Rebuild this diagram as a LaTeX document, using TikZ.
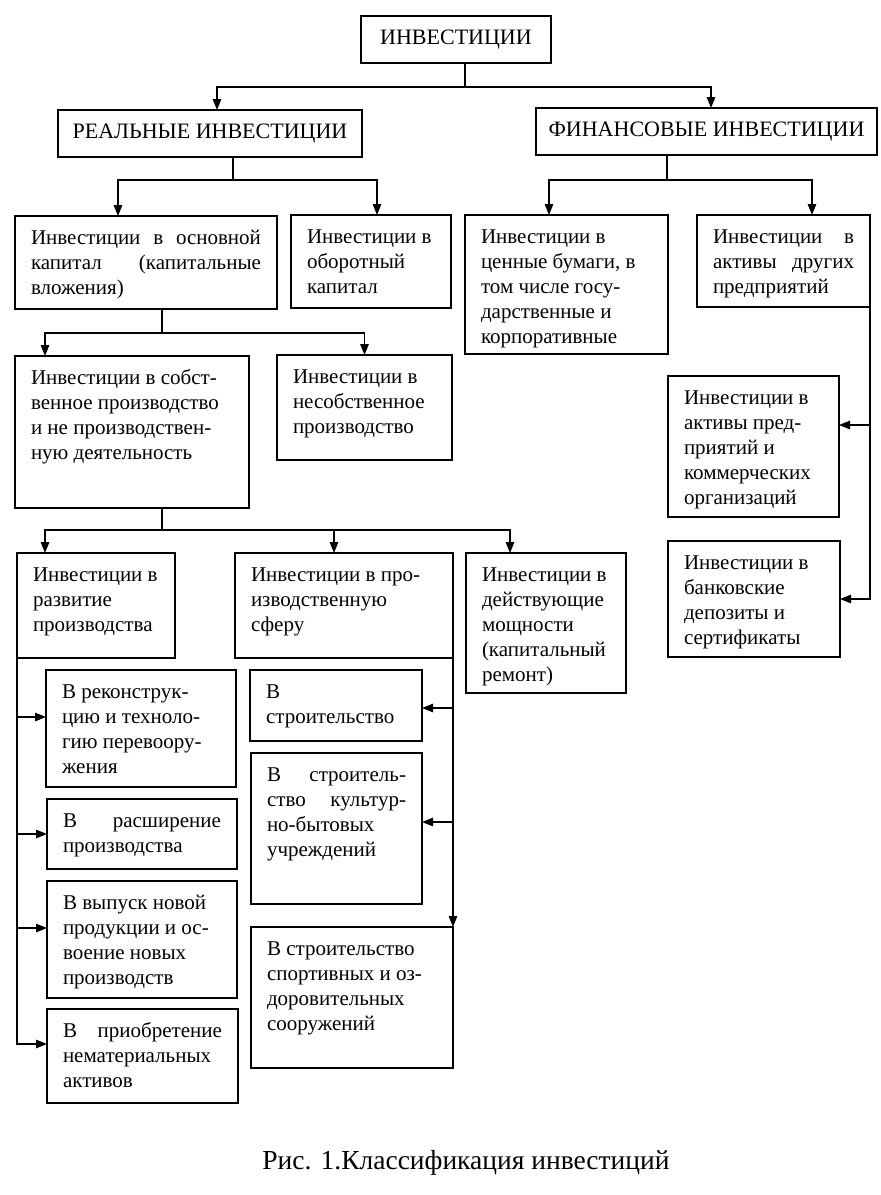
\documentclass[tikz,border=0pt]{standalone}
\usepackage{fontspec}
\setmainfont{Liberation Serif}
\usetikzlibrary{arrows.meta}
\newlength\bxw
\newlength\bxh
\newcommand\bx[6]{%
  \pgfmathsetlength\bxw{#4-#2-32}%
  \pgfmathsetlength\bxh{#5-#3}%
  \node[box, anchor=north west] (#1) at (#2,#3) {\parbox[c][\bxh][t]{\bxw}{\vspace*{11pt}\strut #6}};}
\tikzset{
  box/.style={draw, line width=1.3pt, inner xsep=16pt, inner ysep=0pt, outer sep=0pt, font=\fontsize{21}{25}\selectfont},
  head/.style={draw, line width=1.3pt, inner sep=0pt, outer sep=0pt, font=\fontsize{22}{26}\selectfont, anchor=north west},
  ln/.style={line width=1.2pt},
  arr/.style={line width=1.2pt, -{Triangle[length=11pt,width=8.5pt]}}
}
\begin{document}
\begin{tikzpicture}[x=1pt,y=-1pt]
\useasboundingbox[fill=white] (0,0) rectangle (881,1195);
% headings
\node[head, minimum width=190pt, minimum height=47pt] (top) at (361,16) {ИНВЕСТИЦИИ};
\node[head, minimum width=304pt, minimum height=47pt] (ri) at (58,110) {РЕАЛЬНЫЕ ИНВЕСТИЦИИ};
\node[head, minimum width=341pt, minimum height=47pt] (fi) at (536,108) {ФИНАНСОВЫЕ ИНВЕСТИЦИИ};
% row 2
\bx{ok}{15}{216}{277}{309}{Инвестиции\hfill в\hfill основной\\капитал\hfill(капитальные\\вложения)}
\bx{ob}{291}{215}{451}{308}{Инвестиции в\\оборотный\\капитал}
\bx{cb}{465}{215}{668}{354}{Инвестиции в\\ценные бумаги, в\\том числе госу-\\дарственные и\\корпоративные}
\bx{ak}{697}{215}{870}{307}{Инвестиции\hfill в\\активы\hfill других\\предприятий}
% row 3
\bx{sob}{15}{356}{249}{508}{Инвестиции в собст-\\венное производство\\и не производствен-\\ную деятельность}
\bx{nes}{277}{355}{452}{460}{Инвестиции в\\несобственное\\производство}
\bx{akp}{668}{376}{839}{517}{Инвестиции в\\активы пред-\\приятий и\\коммерческих\\организаций}
\bx{bank}{668}{541}{840}{657}{Инвестиции в\\банковские\\депозиты и\\сертификаты}
% row 4
\bx{razv}{17}{553}{175}{658}{Инвестиции в\\развитие\\производства}
\bx{proizv}{235}{553}{453}{658}{Инвестиции в про-\\изводственную\\сферу}
\bx{deyst}{466}{553}{626}{693}{Инвестиции в\\действующие\\мощности\\(капитальный\\ремонт)}
% left column
\bx{rek}{46}{670}{236}{787}{В реконструк-\\цию и техноло-\\гию перевоору-\\жения}
\bx{rassh}{47}{799}{237}{869}{В\hfill расширение\\производства}
\bx{vyp}{47}{881}{237}{998}{В выпуск новой\\продукции и ос-\\воение новых\\производств}
\bx{prio}{47}{1009}{238}{1103}{В\hfill приобретение\\нематериальных\\активов}
% middle column
\bx{stroi}{250}{670}{422}{741}{В\\строительство}
\bx{kult}{251}{753}{422}{904}{В\hfill строитель-\\ство\hfill культур-\\но-бытовых\\учреждений}
\bx{sport}{251}{927}{453}{1068}{В строительство\\спортивных и оз-\\доровительных\\сооружений}
% caption
\node[font=\fontsize{27.5}{31}\selectfont, anchor=base, inner sep=0pt] (cap) at (466,1169) {Рис. 1.Классификация инвестиций};
% connectors
\draw[ln] ([xshift=9pt]top.south) -- ++(0,24) coordinate (j0);
\draw[arr] (j0) -| ([xshift=7pt]ri.north);
\draw[arr] (j0) -| ([xshift=4.5pt]fi.north);
\draw[ln] ([xshift=23pt]ri.south) -- ++(0,23) coordinate (j1);
\draw[arr] (j1) -| ([xshift=-28pt]ok.north);
\draw[arr] (j1) -| ([xshift=6pt]ob.north);
\draw[ln] ([xshift=-39.5pt]fi.south) -- ++(0,25) coordinate (j2);
\draw[arr] (j2) -| ([xshift=-17.5pt]cb.north);
\draw[arr] (j2) -| ([xshift=28.5pt]ak.north);
\draw[ln] ([xshift=16pt]ok.south) -- ++(0,24) coordinate (j3);
\draw[arr] (j3) -| ([xshift=-87pt]sob.north);
\draw[arr] (j3) -| (nes.north);
\draw[ln] ([xshift=30pt]sob.south) -- ++(0,22) coordinate (j4);
\draw[arr] (j4) -| ([xshift=-51pt]razv.north);
\draw[arr] (j4) -| ([xshift=-10pt]proizv.north);
\draw[arr] (j4) -| ([xshift=-36pt]deyst.north);
% left spine
\coordinate (a1) at ([yshift=11.5pt]rek.west);
\coordinate (a3) at ([yshift=11.5pt]vyp.west);
\coordinate (a4) at ([yshift=12pt]prio.west);
\draw[arr] (razv.south west) |- (a4);
\draw[arr] (razv.south west |- a1) -- (a1);
\draw[arr] (razv.south west |- rassh.west) -- (rassh.west);
\draw[arr] (razv.south west |- a3) -- (a3);
% middle spine
\coordinate (b1) at ([yshift=-2.5pt]stroi.east);
\coordinate (b2) at ([yshift=6.5pt]kult.east);
\draw[arr] (proizv.south east) -- (sport.north east);
\draw[arr] (proizv.south east |- b1) -- (b1);
\draw[arr] (proizv.south east |- b2) -- (b2);
% right spine
\coordinate (c1) at ([yshift=21.5pt]akp.east);
\draw[arr] (ak.south east) |- (bank.east);
\draw[arr] (ak.south east |- c1) -- (c1);
\end{tikzpicture}
\end{document}
